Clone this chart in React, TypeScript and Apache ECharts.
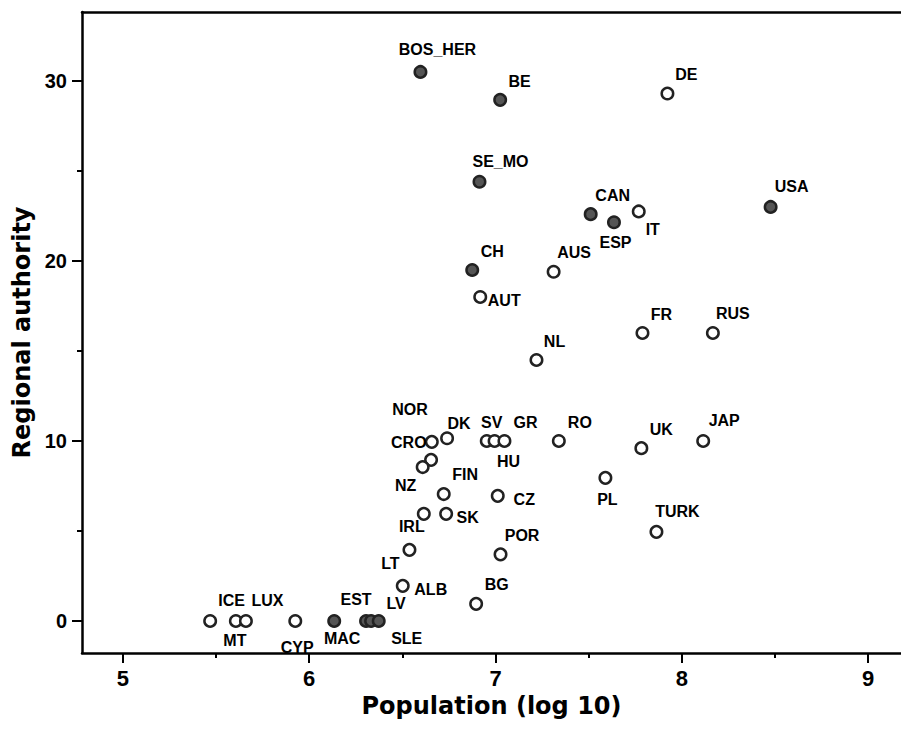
import React, { useEffect, useRef } from "react";
import * as echarts from "echarts";

// ---- data ----
const countries = [
  "BOS_HER", "BE", "SE_MO", "CAN", "ESP", "USA", "CH", "MAC", "EST", "LV", "SLE",
  "DE", "IT", "AUS", "AUT", "FR", "RUS", "NL", "DK", "CRO", "NOR", "NZ", "SV", "HU", "GR", "RO",
  "UK", "JAP", "PL", "TURK", "FIN", "CZ", "IRL", "SK", "LT", "POR", "ALB", "BG",
  "ICE", "MT", "LUX", "CYP",
];
const population = [
  6.597, 7.025, 6.914, 7.511, 7.636, 8.477, 6.875, 6.134, 6.305, 6.332, 6.373,
  7.923, 7.769, 7.312, 6.918, 7.789, 8.167, 7.22, 6.74, 6.658, 6.654, 6.609, 6.953, 6.995, 7.048, 7.34,
  7.783, 8.115, 7.59, 7.864, 6.722, 7.012, 6.615, 6.735, 6.538, 7.027, 6.502, 6.896,
  5.468, 5.606, 5.66, 5.925,
];
const regional = [
  30.5, 28.95, 24.4, 22.6, 22.15, 23.0, 19.5, 0, 0, 0, 0,
  29.3, 22.75, 19.4, 18.0, 16.0, 16.0, 14.5, 10.15, 9.95, 8.95, 8.55, 10.0, 10.0, 10.0, 10.0,
  9.6, 10.0, 7.95, 4.95, 7.05, 6.95, 5.95, 5.95, 3.95, 3.7, 1.95, 0.95,
  0, 0, 0, 0,
];
const filled = [
  true, true, true, true, true, true, true, true, true, true, true,
  false, false, false, false, false, false, false, false, false, false, false, false, false, false, false,
  false, false, false, false, false, false, false, false, false, false, false, false,
  false, false, false, false,
];
const xTicks = [5, 6, 7, 8, 9];
const xMinorTicks = [5.5, 6.5, 7.5, 8.5];
const yTicks = [0, 10, 20, 30];
const yMinorTicks = [5, 15, 25];

// ---- label placement (pixels, relative to point centre) ----
const labelOffsets: Record<string, [number, number]> = {
  BOS_HER: [17, -22], BE: [19.5, -18], DE: [19, -19], SE_MO: [21, -20], CAN: [22, -19],
  ESP: [1.5, 20], IT: [14, 18], USA: [21, -20], CH: [20, -18], AUS: [20.5, -19],
  AUT: [24, 4], FR: [19, -18], RUS: [20, -19], NL: [18, -18], NOR: [-21, -50],
  DK: [12, -15], CRO: [-23, 1], NZ: [-17, 18.5], SV: [5, -18], HU: [14, 21],
  GR: [21, -18], RO: [21, -18], UK: [20, -19], JAP: [21, -20], PL: [2, 21.5],
  TURK: [21, -20], FIN: [21.5, -20], CZ: [26.5, 4], IRL: [-12, 13], SK: [21.5, 4],
  LT: [-19, 14], POR: [21.5, -19], ALB: [28, 4], BG: [20.5, -19], ICE: [21.5, -20],
  MT: [-1, 20], LUX: [21.5, -20], CYP: [2, 27], MAC: [8, 18], EST: [-10, -21],
  LV: [25, -17], SLE: [28, 18],
};

const X_MIN = 4.78;
const X_MAX = 9.177;
const Y_MIN = -1.78;
const Y_MAX = 33.83;

const AXIS_COLOR = "#000";

function buildData(isFilled: boolean) {
  const out: any[] = [];
  countries.forEach((name, i) => {
    if (filled[i] !== isFilled) return;
    out.push({
      name,
      value: [population[i], regional[i]],
      label: { offset: labelOffsets[name] || [0, -18] },
    });
  });
  return out;
}

export default function App() {
  const ref = useRef<HTMLDivElement>(null);
  useEffect(() => {
    if (!ref.current) return;
    const chart = echarts.init(ref.current, undefined, { renderer: "svg" });
    const labelStyle = {
      show: true,
      position: "inside",
      formatter: "{b}",
      color: "#000",
      fontFamily: "'Liberation Sans', Arial, sans-serif",
      fontWeight: "bold",
      fontSize: 16,
      align: "center",
      verticalAlign: "middle",
    };
    const baseX = {
      type: "value",
      min: X_MIN,
      max: X_MAX,
      splitLine: { show: false },
    };
    const baseY = {
      type: "value",
      min: Y_MIN,
      max: Y_MAX,
      splitLine: { show: false },
    };
    chart.setOption({
      animation: false,
      backgroundColor: "#fff",
      grid: {
        left: 82,
        right: 0,
        top: 12,
        bottom: 78,
        containLabel: false,
        outerBoundsMode: "none",
      },
      xAxis: [
        {
          ...baseX,
          position: "bottom",
          name: "Population (log 10)",
          nameLocation: "middle",
          nameGap: 28,
          nameTextStyle: {
            fontFamily: "'DejaVu Sans', sans-serif",
            fontWeight: "bold",
            fontSize: 24,
            color: AXIS_COLOR,
          },
          axisLine: { show: true, onZero: false, lineStyle: { color: AXIS_COLOR, width: 2.5 } },
          axisTick: {
            show: true,
            length: 10,
            customValues: xTicks,
            lineStyle: { color: AXIS_COLOR, width: 2 },
          },
          axisLabel: {
            customValues: xTicks,
            margin: 14,
            color: AXIS_COLOR,
            fontFamily: "'Liberation Sans', Arial, sans-serif",
            fontWeight: "bold",
            fontSize: 22,
          },
        },
        {
          ...baseX,
          position: "bottom",
          axisLine: { show: false, onZero: false },
          axisTick: {
            show: true,
            length: 5,
            customValues: xMinorTicks,
            lineStyle: { color: AXIS_COLOR, width: 2 },
          },
          axisLabel: { show: false },
        },
        {
          ...baseX,
          position: "top",
          axisLine: { show: true, onZero: false, lineStyle: { color: AXIS_COLOR, width: 2.5 } },
          axisTick: { show: false },
          axisLabel: { show: false },
        },
      ],
      yAxis: [
        {
          ...baseY,
          position: "left",
          name: "Regional authority",
          nameLocation: "middle",
          nameGap: 42,
          nameRotate: 90,
          nameTextStyle: {
            fontFamily: "'DejaVu Sans', sans-serif",
            fontWeight: "bold",
            fontSize: 24,
            color: AXIS_COLOR,
          },
          axisLine: { show: true, onZero: false, lineStyle: { color: AXIS_COLOR, width: 2.5 } },
          axisTick: {
            show: true,
            length: 10,
            customValues: yTicks,
            lineStyle: { color: AXIS_COLOR, width: 2 },
          },
          axisLabel: {
            customValues: yTicks,
            margin: 15,
            color: AXIS_COLOR,
            fontFamily: "'Liberation Sans', Arial, sans-serif",
            fontWeight: "bold",
            fontSize: 20,
          },
        },
        {
          ...baseY,
          position: "left",
          axisLine: { show: false, onZero: false },
          axisTick: {
            show: true,
            length: 5,
            customValues: yMinorTicks,
            lineStyle: { color: AXIS_COLOR, width: 2 },
          },
          axisLabel: { show: false },
        },
      ],
      series: [
        {
          name: "filled",
          type: "scatter",
          xAxisIndex: 0,
          yAxisIndex: 0,
          symbol: "circle",
          symbolSize: 11.5,
          itemStyle: { color: "#555555", borderColor: "#222222", borderWidth: 2.5, opacity: 1 },
          label: labelStyle,
          emphasis: { disabled: true },
          data: buildData(true),
        },
        {
          name: "open",
          type: "scatter",
          xAxisIndex: 0,
          yAxisIndex: 0,
          symbol: "circle",
          symbolSize: 11.5,
          itemStyle: { color: "#ffffff", borderColor: "#222222", borderWidth: 2.5, opacity: 1 },
          label: labelStyle,
          emphasis: { disabled: true },
          data: buildData(false),
        },
      ],
    });
    return () => chart.dispose();
  }, []);
  return (
    <div
      ref={ref}
      style={{ position: "absolute", left: 0, top: 0, width: 901, height: 731, background: "#fff" }}
    />
  );
}
